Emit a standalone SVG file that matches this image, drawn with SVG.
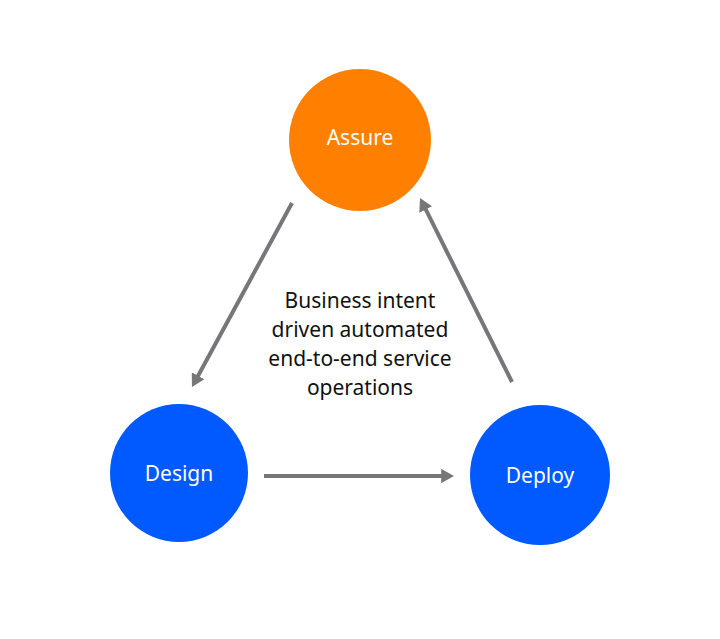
<svg xmlns="http://www.w3.org/2000/svg" width="720" height="639" viewBox="0 0 720 639">
<style>
.node-label{font-family:"Noto Sans","Open Sans",sans-serif;font-size:21px;fill:#ffffff;text-anchor:middle}
.center{font-family:"Noto Sans","Open Sans",sans-serif;font-size:21px;fill:#111111;text-anchor:middle}
.conn{stroke:#77777a;stroke-width:4;fill:none;marker-end:url(#arr)}
</style>
<defs>
<marker id="arr" markerWidth="3.2" markerHeight="3.6" refX="1.2" refY="1.8" orient="auto" markerUnits="strokeWidth" viewBox="0 0 3.2 3.6">
<path d="M0,0 L3.2,1.8 L0,3.6 Z" fill="#77777a"/>
</marker>
</defs>
<rect width="720" height="639" fill="#ffffff"/>
<g id="connectors">
<line class="conn" x1="292" y1="203" x2="195.8" y2="380"/>
<line class="conn" x1="264" y1="476" x2="446" y2="476"/>
<line class="conn" x1="512" y1="382" x2="423.6" y2="205.2"/>
</g>
<g id="assure">
<circle cx="360" cy="140" r="71" fill="#ff7f00"/>
<text class="node-label" x="360" y="145">Assure</text>
</g>
<g id="design">
<circle cx="179" cy="473" r="69" fill="#005aff"/>
<text class="node-label" x="179" y="481">Design</text>
</g>
<g id="deploy">
<circle cx="540" cy="475" r="70" fill="#005aff"/>
<text class="node-label" x="540" y="483">Deploy</text>
</g>
<g id="center-text">
<text class="center" x="360" y="308">Business intent</text>
<text class="center" x="360" y="337">driven automated</text>
<text class="center" x="360" y="366">end-to-end service</text>
<text class="center" x="360" y="395">operations</text>
</g>
</svg>
